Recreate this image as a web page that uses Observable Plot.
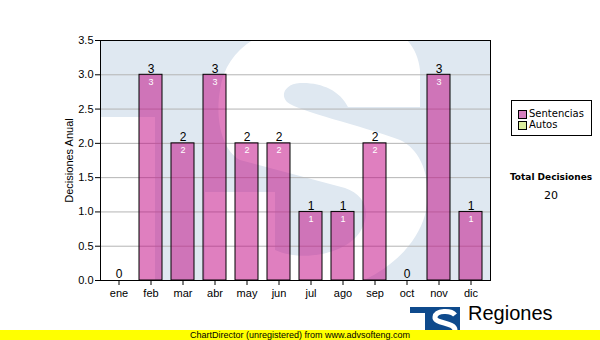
<!DOCTYPE html>
<html>
<head>
<meta charset="utf-8">
<script src="https://cdn.jsdelivr.net/npm/d3@7"></script>
<script src="https://cdn.jsdelivr.net/npm/@observablehq/plot@0.6"></script>
<style>
  html, body { margin: 0; padding: 0; background: #ffffff; }
  #wrap { position: relative; width: 600px; height: 340px; overflow: hidden; }
  #chart svg { display: block; }
  .abs { position: absolute; white-space: nowrap; }
  #legend { left: 511px; top: 100px; width: 79px; height: 34px; border: 1px solid #000; background: #fff;
            font-family: "DejaVu Sans", sans-serif; font-size: 10px; line-height: 10px; }
  .item { position: absolute; left: 6px; height: 10px; }
  .sw { display: inline-block; width: 7px; height: 7px; border: 1px solid #000; vertical-align: top; margin-top: 1px; margin-right: 2px; }
  #totalLabel { left: 500px; width: 102px; top: 172px; text-align: center; font-family: "DejaVu Sans", sans-serif; font-weight: bold; font-size: 9px; }
  #totalValue { left: 500px; width: 102px; top: 189px; text-align: center; font-family: "DejaVu Sans", sans-serif; font-size: 11px; }
  #brand { left: 468px; top: 302px; font-family: "Liberation Sans", Arial, sans-serif; font-size: 20px; color: #000; }
  #banner { left: 0; top: 330px; width: 600px; height: 10px; background: #ffff00; text-align: center;
            font-family: "Liberation Sans", Arial, sans-serif; font-size: 9px; line-height: 10px; color: #000; }
</style>
</head>
<body>
<div id="wrap">
  <div id="chart"></div>
</div>
<script>
// ---- data ----
const months = ["ene", "feb", "mar", "abr", "may", "jun", "jul", "ago", "sep", "oct", "nov", "dic"];
const sentencias = [0, 3, 2, 3, 2, 2, 1, 1, 2, 0, 3, 1];
const autos = [0, 0, 0, 0, 0, 0, 0, 0, 0, 0, 0, 0];
const yTicks = [0, 0.5, 1, 1.5, 2, 2.5, 3, 3.5];
const seriesNames = ["Sentencias", "Autos"];
const seriesColors = ["#d680bf", "#dcee9e"];
const yLabel = "Decisiones Anual";
const totalLabel = "Total Decisiones";
const brandName = "Regiones";
const bannerText = "ChartDirector (unregistered) from www.advsofteng.com";

const data = months.map((m, i) => ({ month: m, value: sentencias[i] }));
const total = d3.sum(sentencias) + d3.sum(autos);

// decorative watermark (stretched logo) behind the plot, drawn in a 390x240 frame-relative box
const WM_S = "M105 250 L105 152 L175 152 L175 210 C200 222 245 215 260 192 C272 172 265 155 245 148 " +
  "L140 120 C122 110 115 80 120 50 C125 15 150 -5 190 -15 L280 -15 C305 -10 318 10 320 30 L320 67 " +
  "L248 67 C240 50 220 42 200 43 C185 44 180 55 187 62 C200 72 260 85 300 100 C325 112 332 145 325 175 " +
  "C315 210 280 240 230 252 Z";
function watermark(index, scales, values, dimensions) {
  const dm = dimensions || { width: 600, height: 340, marginLeft: 100, marginRight: 110, marginTop: 40, marginBottom: 60 };
  const x0 = dm.marginLeft, x1 = dm.width - dm.marginRight;
  const y0 = dm.marginTop, y1 = dm.height - dm.marginBottom;
  const w = x1 - x0, h = y1 - y0;
  const g = d3.create("svg:g");
  g.append("clipPath").attr("id", "wm-clip")
    .append("rect").attr("x", x0).attr("y", y0).attr("width", w).attr("height", h);
  const c = g.append("g").attr("clip-path", "url(#wm-clip)");
  c.append("rect").attr("x", x0).attr("y", y0).attr("width", w).attr("height", h).attr("fill", "#dfe8f1");
  const s = c.append("g").attr("transform", `translate(${x0},${y0}) scale(${w / 390},${h / 240})`);
  s.append("rect").attr("x", 0).attr("y", 77).attr("width", 55).attr("height", 200).attr("fill", "#ffffff");
  s.append("path").attr("d", WM_S).attr("fill", "#ffffff");
  return g.node();
}

const chart = Plot.plot({
  width: 600,
  height: 340,
  marginLeft: 100,
  marginRight: 110,
  marginTop: 40,
  marginBottom: 60,
  style: { fontFamily: "Liberation Sans, Arial, sans-serif", fontSize: "11px", background: "transparent", color: "#000" },
  x: { domain: months, paddingInner: 0.28, paddingOuter: 0.14, label: null },
  y: { domain: [0, 3.5], label: null },
  marks: [
    watermark,
    Plot.gridY(yTicks, { stroke: "#b4b4b4", strokeOpacity: 1 }),
    Plot.barY(data, { x: "month", y: "value", fill: "#c0007f", fillOpacity: 0.5, stroke: "#000", strokeWidth: 1 }),
    Plot.text(data, { x: "month", y: "value", text: d => String(d.value), dy: -6, fontSize: 12, fill: "#000" }),
    Plot.text(data.filter(d => d.value > 0), { x: "month", y: "value", text: d => String(d.value), dy: 7, fontSize: 9, fill: "#fff" }),
    Plot.frame({ stroke: "#000" }),
    Plot.axisY({ ticks: yTicks, tickFormat: d3.format(".1f"), tickSize: 5, tickPadding: 2, fontSize: 11,
                 label: yLabel, labelAnchor: "center", labelOffset: 35, labelArrow: "none" }),
    Plot.axisX({ tickSize: 5, tickPadding: 4, fontSize: 11, label: null })
  ]
});
document.getElementById("chart").appendChild(chart);

const wrap = document.getElementById("wrap");

// legend
const legend = document.createElement("div");
legend.id = "legend"; legend.className = "abs";
seriesNames.forEach((name, i) => {
  const it = document.createElement("div");
  it.className = "item";
  it.style.top = (8 + i * 11) + "px";
  it.innerHTML = `<span class="sw" style="background:${seriesColors[i]}"></span>${name}`;
  legend.appendChild(it);
});
wrap.appendChild(legend);

const tl = document.createElement("div");
tl.id = "totalLabel"; tl.className = "abs"; tl.textContent = totalLabel;
wrap.appendChild(tl);
const tv = document.createElement("div");
tv.id = "totalValue"; tv.className = "abs"; tv.textContent = String(total);
wrap.appendChild(tv);

// logo (decorative)
const ns = "http://www.w3.org/2000/svg";
const logo = document.createElementNS(ns, "svg");
logo.setAttribute("width", 52); logo.setAttribute("height", 36);
logo.style.position = "absolute"; logo.style.left = "409px"; logo.style.top = "304px";
logo.innerHTML = `<path d="M1 3 H51 V36 H16 V9 H1 Z" fill="#0e4a8c"/>
  <path d="M46 11 C42 6 27 6 26 13 C25 20 46 18 46 26 C46 33 30 34 23 29" fill="none" stroke="#fff" stroke-width="5"/>`;
wrap.appendChild(logo);

const brand = document.createElement("div");
brand.id = "brand"; brand.className = "abs"; brand.textContent = brandName;
wrap.appendChild(brand);

const banner = document.createElement("div");
banner.id = "banner"; banner.className = "abs"; banner.textContent = bannerText;
wrap.appendChild(banner);
</script>
</body>
</html>
